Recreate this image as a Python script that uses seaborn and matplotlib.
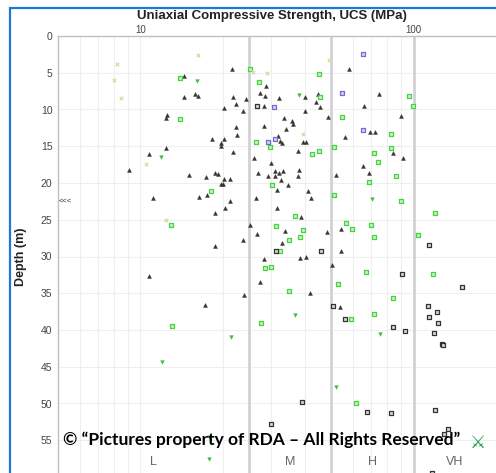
import pandas as pd
import matplotlib.pyplot as plt
import seaborn as sns
from matplotlib.patches import Rectangle

sns.set_theme(style="white")
plt.rcParams['font.family'] = ['Liberation Sans', 'DejaVu Sans']

# --- data: (UCS MPa, depth m) ---
tri_ucs = [14.5, 14.5, 15.8, 16.3, 21.7, 21.9, 22.3, 24.4, 20.3, 23.7, 12.5, 12.4, 22.3, 22.6,
           18.3, 20.3, 19.8, 19.7, 12.4, 10.8, 21.8,
           58.1, 28.8, 27.5, 28.5, 32.1, 40.1, 44.6, 43.8, 45.6, 74.6, 65.8, 89.5, 48.5, 40.2,
           33.5, 35.8, 36.3, 28.3, 28.3, 34.2, 31.9, 32.5, 33.0, 39.2, 40.5, 37.7, 56.0, 69.5,
           71.9, 84.3, 91.4, 26.0,
           9.09, 15.1, 17.4, 18.7, 19.3, 20.2, 21.2, 19.8, 20.0, 16.4, 17.5, 21.2, 20.4, 11.1,
           18.8, 23.8, 18.7, 10.8, 24.0, 17.3,
           30.1, 26.9, 31.2, 32.2, 33.3, 29.4, 31.0, 32.6, 37.6, 38.0, 31.5, 34.7, 41.2, 42.2,
           26.5, 31.6, 38.6, 52.1, 65.5, 68.5, 25.1, 33.7, 32.9, 26.7, 48.3, 54.1, 54.0, 28.3,
           38.3, 40.3, 50.1, 27.3, 41.9, 53.6]
tri_depth = [5.4, 8.3, 7.9, 8.1, 4.5, 8.3, 9.3, 8.55, 9.8, 10.2, 10.8, 11.2, 12.4, 13.5,
             14.0, 14.0, 14.5, 15.0, 15.3, 16.1, 15.8,
             4.5, 6.8, 7.7, 8.2, 8.5, 8.3, 7.9, 9.0, 9.6, 7.9, 9.5, 10.9, 11.0, 10.2,
             11.1, 11.5, 12.0, 9.5, 12.3, 12.6, 13.6, 14.3, 14.6, 14.4, 14.4, 15.6, 13.8, 13.1,
             13.0, 15.9, 16.6, 16.6,
             18.2, 18.9, 19.2, 18.6, 18.8, 19.5, 19.5, 20.1, 20.1, 21.9, 21.7, 22.4, 23.4, 22.0,
             24.1, 27.7, 28.6, 32.7, 35.3, 36.6,
             17.3, 18.6, 18.3, 18.7, 18.3, 19.1, 19.1, 19.6, 19.1, 18.2, 21.0, 20.3, 21.1, 22.1,
             22.1, 23.4, 24.6, 18.9, 17.7, 18.7, 25.7, 26.5, 28.2, 27.0, 26.6, 26.3, 29.3, 30.4,
             30.2, 30.1, 31.1, 33.5, 35.0, 36.9]

green_ucs = [13.98, 14.0, 25.2, 44.9, 27.1, 45.3, 96.1, 99.2, 54.8, 26.4, 29.9, 42.6, 44.9, 51.0,
             82.8, 82.8, 71.3, 18.1, 12.95, 30.4, 36.7, 68.6, 51.0, 74.2, 86.0, 90.2, 119.5, 31.4,
             39.3, 38.3, 35.1, 56.6, 59.6, 69.9, 71.7, 104, 32.4, 28.5, 30.0, 66.9, 117.5, 53.0,
             34.9, 83.9, 71.3, 59.0, 27.6, 61.3, 13.06]
green_depth = [5.76, 11.25, 4.5, 5.2, 6.3, 8.3, 8.1, 9.5, 11.0, 14.4, 15.1, 16.1, 15.6, 15.1,
               13.3, 15.3, 15.9, 21.1, 25.7, 20.3, 24.5, 19.8, 21.6, 17.1, 19.1, 22.5, 24.1, 25.9,
               26.4, 27.3, 27.8, 25.5, 26.2, 25.7, 27.4, 27.1, 29.3, 31.5, 31.4, 32.1, 32.4, 33.8,
               34.7, 35.6, 37.8, 38.5, 39.1, 50.0, 39.4]

dark_ucs = [26.7, 113.9, 31.3, 45.8, 90.7, 149.9, 50.7, 112.6, 122, 114, 56.2, 122.8, 83.9, 93,
            118.9, 126.8, 128.4, 39.0, 67.3, 82.4, 119.5, 30.1, 129, 134, 117]
dark_depth = [9.5, 28.4, 29.3, 29.3, 32.4, 34.1, 36.8, 36.8, 37.5, 38.2, 38.5, 39.0, 39.6, 40.2,
              40.4, 41.9, 42.0, 49.8, 51.1, 51.3, 50.9, 52.8, 54.1, 53.5, 59.4]

blue_ucs = [65.0, 54.6, 30.9, 29.3, 31.0, 65.0]
blue_depth = [2.5, 7.7, 9.7, 14.4, 14.0, 12.8]

gdown_ucs = [16.1, 11.9, 38.2, 70.3, 36.9, 75, 51.8, 21.5, 12.03, 17.8, 17.8]
gdown_depth = [6.1, 16.4, 8.0, 22.2, 38.0, 40.6, 47.7, 41.0, 44.4, 54.5, 57.5]

tan_ucs = [8.19, 8.03, 8.52, 16.2, 49.1, 25.9, 29.0, 39.2, 10.5, 12.4]
tan_depth = [3.84, 6.0, 8.4, 2.56, 3.3, 4.9, 5.1, 13.4, 17.4, 25.1]

class_bounds = [25, 50, 100]
class_names = ['L', 'M', 'H', 'VH']
class_pos = [11.2, 35.4, 70.7, 141]

W, H = 496, 473
fig = plt.figure(figsize=(W / 100, H / 100), dpi=100)
ax = fig.add_axes([58 / W, -4 / H, 1 - 58 / W, (477 - 36) / H])

ax.set_xscale('log')
ax.set_xlim(5, 200)
ax.set_ylim(60, 0)

# grid
ax.set_xticks([10, 100])
ax.set_xticks([6, 7, 8, 9, 20, 30, 40, 60, 70, 80, 90, 200], minor=True)
ax.set_xticklabels(['10', '100'], fontsize=7, color='#444444')
ax.xaxis.set_minor_formatter(plt.NullFormatter())
ax.xaxis.tick_top()
ax.set_yticks(range(0, 61, 5))
ax.set_yticklabels([str(v) for v in range(0, 61, 5)], fontsize=7.5, color='#444444')
ax.tick_params(axis='y', length=0, pad=4)
ax.tick_params(axis='x', which='both', length=0, pad=1)
ax.grid(True, which='both', color='#efefef', lw=0.8)
ax.set_axisbelow(True)
for b in class_bounds:
    ax.axvline(b, color='#d2d2d2', lw=2, zorder=1)
for s in ['right', 'bottom']:
    ax.spines[s].set_visible(False)
for s in ['left', 'top']:
    ax.spines[s].set_color('#c0c0c0')
    ax.spines[s].set_linewidth(1)

sns.scatterplot(x=tri_ucs, y=tri_depth, marker='^', s=8, color='#34342e',
                edgecolor='#34342e', linewidth=0.3, ax=ax, zorder=3)
sns.scatterplot(x=green_ucs, y=green_depth, marker='s', s=10, color='#c9f3c0',
                edgecolor='#44d444', linewidth=0.9, ax=ax, zorder=3)
sns.scatterplot(x=dark_ucs, y=dark_depth, marker='s', s=9, color='#d8d8d8',
                edgecolor='#333333', linewidth=0.9, ax=ax, zorder=3)
sns.scatterplot(x=blue_ucs, y=blue_depth, marker='s', s=10, color='#d3d3f3',
                edgecolor='#7070cc', linewidth=0.9, ax=ax, zorder=3)
sns.scatterplot(x=gdown_ucs, y=gdown_depth, marker='v', s=7, color='#3cbf3c',
                edgecolor='#3cbf3c', linewidth=0.3, ax=ax, zorder=3)
sns.scatterplot(x=tan_ucs, y=tan_depth, marker='x', s=6, color='#ddd8a4',
                linewidth=0.9, ax=ax, zorder=3)

for name, pos in zip(class_names, class_pos):
    ax.text(pos, 58.0, name, ha='center', va='center', fontsize=9, color='#666666')

ax.text(0.002, 22.5, '<<<', transform=ax.get_yaxis_transform(), ha='left', va='center',
        fontsize=5.5, color='#333333')

ax.set_xlabel('')
ax.set_ylabel('Depth (m)', fontsize=9, fontweight='bold', color='#222222', labelpad=10)

fig.text(272 / W, 1 - 16 / H, 'Uniaxial Compressive Strength, UCS (MPa)', ha='center',
         va='center', fontsize=9.5, fontweight='bold', color='#222222')

fig.text(262 / W, 1 - 440 / H, '\u00a9 \u201cPictures property of RDA \u2013 All Rights Reserved\u201d',
         ha='center', va='center', fontsize=12.5, fontweight='bold', color='black',
         family=['Lato', 'DejaVu Sans'])
fig.text(478 / W, 1 - 443 / H, '\u2694', ha='center', va='center', fontsize=13,
         color='#1f9a4a', family=['DejaVu Sans'])

fig.patches.append(Rectangle((10 / W, -0.1), 1.0, 1 - 8 / H + 0.1, transform=fig.transFigure,
                             fill=False, edgecolor='#1c78d4', lw=1.6))

fig.savefig('out.png', dpi=100)
